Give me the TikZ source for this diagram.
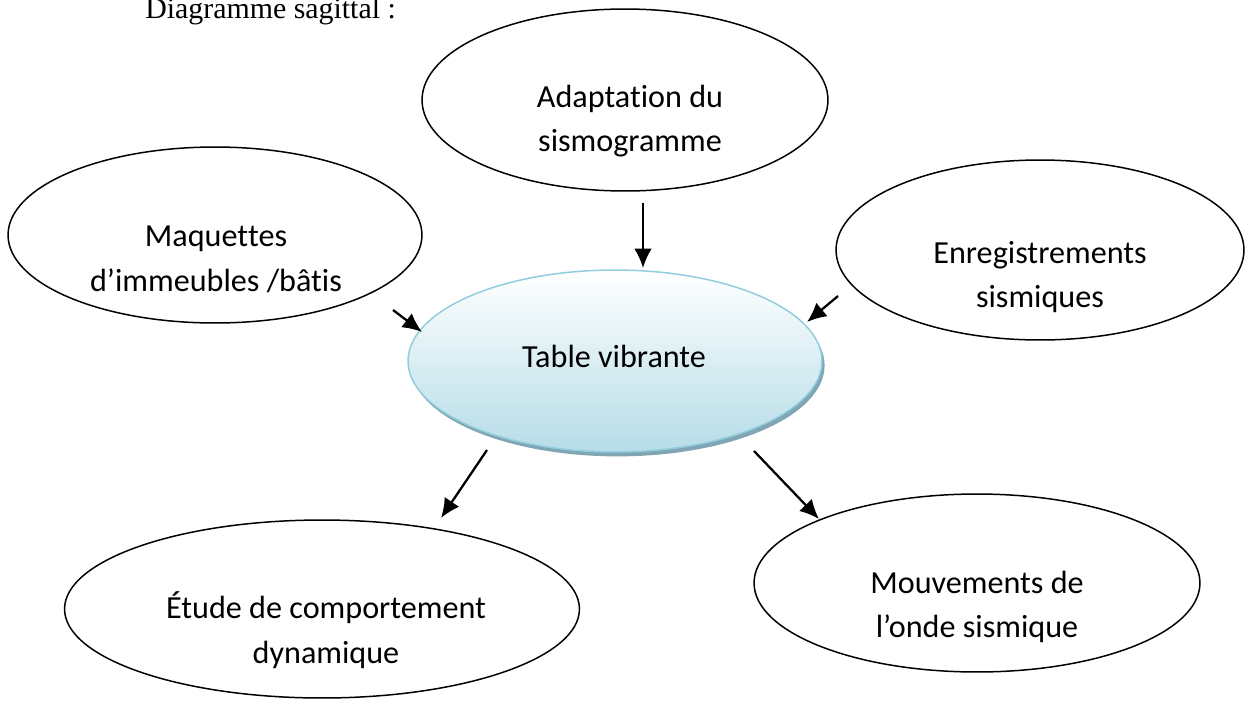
\documentclass[tikz,border=0pt]{standalone}
\usepackage{fontspec}
\setmainfont{Liberation Serif}
\newfontfamily\calibri[Ligatures=NoCommon]{Carlito}
\newcommand\sanslig{\kern0pt} % coupe les ligatures ti / tt
\usetikzlibrary{shapes.geometric,shadows,arrows.meta}

\definecolor{bordbleu}{RGB}{146,205,221}
\definecolor{fondbleu}{RGB}{182,221,232}
\definecolor{ombrebleu}{RGB}{128,166,180}

\tikzset{
  bulle/.style={ellipse, draw, line width=0.85pt, inner sep=0pt, outer sep=0pt},
  texte/.style={font=\calibri\fontsize{18.3}{25.5}\selectfont, align=center, inner sep=0pt},
  fleche/.style={line width=1.3pt, -{Latex[length=11pt,width=10pt]}}
}

\begin{document}
\begin{tikzpicture}[x=0.02cm, y=-0.02cm]
\useasboundingbox (0,0) rectangle (1247,700); % cadre de la figure
\node[anchor=base west, inner sep=0pt, font=\fontsize{17}{20}\selectfont] (titre) at (145,18) {Diagramme sagittal :};

% les bulles
\node[bulle, minimum width=8.12cm, minimum height=3.64cm] (adapt) at (625,100) {};
\node[bulle, minimum width=8.28cm, minimum height=3.52cm] (maquette) at (215,235) {};
\node[bulle, minimum width=8.16cm, minimum height=3.6cm] (enreg) at (1040,250) {};
\node[bulle, draw=bordbleu, top color=white, bottom color=fondbleu,
      drop shadow={shadow xshift=1.5pt, shadow yshift=-2.5pt, fill=ombrebleu, opacity=1},
      minimum width=8.28cm, minimum height=3.64cm] (table) at (615,361) {};
\node[bulle, minimum width=10.3cm, minimum height=3.56cm] (etude) at (322,609) {};
\node[bulle, minimum width=8.92cm, minimum height=3.56cm] (mouv) at (977,583) {};

% les textes
\node[texte] (adapt-t) at (630,121) {Adaptat\sanslig ion du\\sismogramme};
\node[texte] (maquette-t) at (216,259) {Maquet\sanslig tes\\d’immeubles /bât\sanslig is};
\node[texte] (enreg-t) at (1040,277) {Enregistrements\\sismiques};
\node[texte] (table-t) at (614,356) {Table vibrante};
\node[texte] (etude-t) at (326,630) {Étude de comportement\\dynamique};
\node[texte] (mouv-t) at (977,607) {Mouvements de\\l’onde sismique};

% les fleches
\coordinate (a1) at (643,203); \coordinate (a2) at (643,268);
\coordinate (b1) at (393,310); \coordinate (b2) at (422,332);
\coordinate (c1) at (838,296); \coordinate (c2) at (807,322);
\coordinate (d1) at (487,450); \coordinate (d2) at (441,518);
\coordinate (e1) at (754,451); \coordinate (e2) at (819,519);
\draw[fleche] (a1) -- (a2);
\draw[fleche] (b1) -- (b2);
\draw[fleche] (c1) -- (c2);
\draw[fleche] (d1) -- (d2);
\draw[fleche] (e1) -- (e2);
\end{tikzpicture}
\end{document}
